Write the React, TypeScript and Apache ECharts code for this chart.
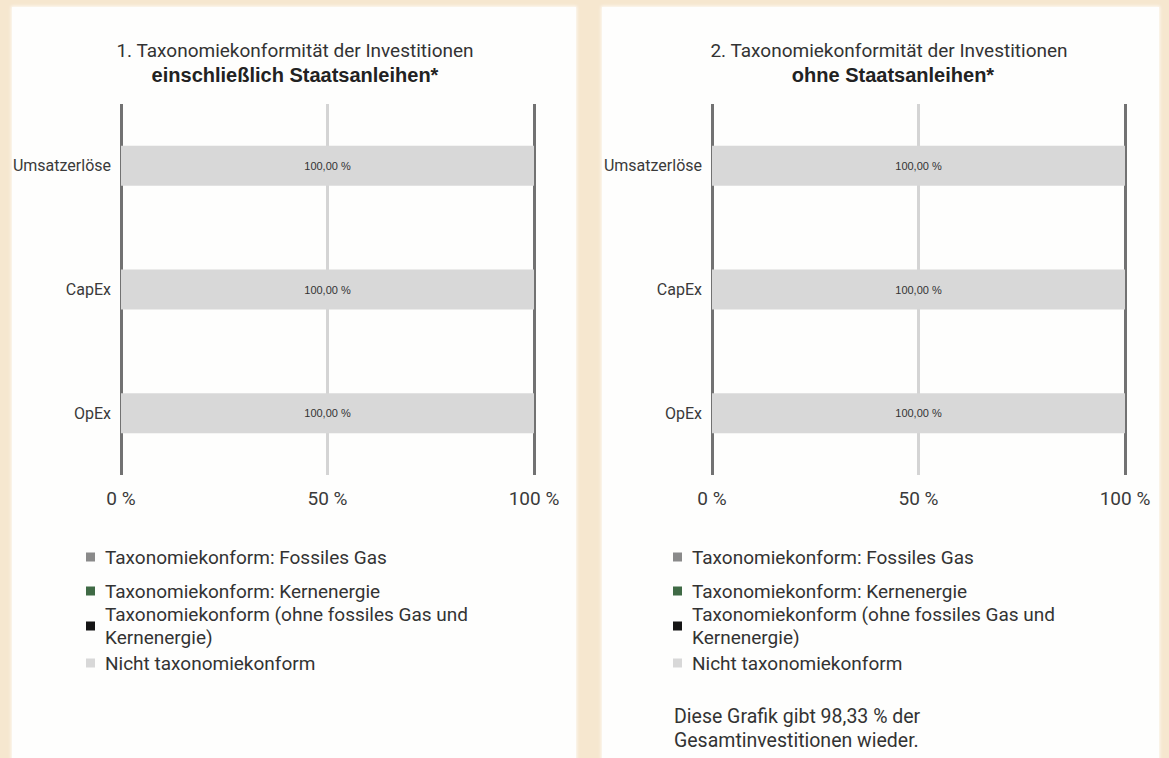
import React, { useEffect, useRef } from 'react';
import * as echarts from 'echarts';

// ---------- data ----------
const categories = ['Umsatzerlöse', 'CapEx', 'OpEx'];
const seriesNames = [
  'Taxonomiekonform: Fossiles Gas',
  'Taxonomiekonform: Kernenergie',
  'Taxonomiekonform (ohne fossiles Gas und Kernenergie)',
  'Nicht taxonomiekonform',
];
const seriesColors = ['#8a8a8a', '#3f6a45', '#151515', '#d8d8d8'];

// Chart 1: including sovereign bonds
const gas1 = [0, 0, 0];
const nuclear1 = [0, 0, 0];
const aligned1 = [0, 0, 0];
const notAligned1 = [100, 100, 100];

// Chart 2: excluding sovereign bonds
const gas2 = [0, 0, 0];
const nuclear2 = [0, 0, 0];
const aligned2 = [0, 0, 0];
const notAligned2 = [100, 100, 100];

const xTicks = [0, 50, 100];
const title1 = ['1. Taxonomiekonformität der Investitionen', 'einschließlich Staatsanleihen*'];
const title2 = ['2. Taxonomiekonformität der Investitionen', 'ohne Staatsanleihen*'];
const footnote = ['Diese Grafik gibt 98,33 % der', 'Gesamtinvestitionen wieder.'];

const FONT = 'Roboto, "Liberation Sans", sans-serif';
const BOLD_FONT = '"Liberation Sans", Arial, sans-serif';
const TEXT = '#333333';

function fmtPct(v: number) {
  return v.toFixed(2).replace('.', ',') + ' %';
}

export default function App() {
  const ref = useRef<HTMLDivElement>(null);

  useEffect(() => {
    if (!ref.current) return;
    const chart = echarts.init(ref.current, undefined, { renderer: 'svg' });

    const grids = [
      { left: 121, top: 104, width: 413, height: 371 },
      { left: 712, top: 104, width: 413, height: 371 },
    ];

    const dataSets = [
      [gas1, nuclear1, aligned1, notAligned1],
      [gas2, nuclear2, aligned2, notAligned2],
    ];

    const xAxes = grids.map((_, gi) => ({
      type: 'value',
      gridIndex: gi,
      min: xTicks[0],
      max: xTicks[xTicks.length - 1],
      interval: xTicks[1] - xTicks[0],
      axisLine: { show: false },
      axisTick: { show: false },
      axisLabel: {
        formatter: (v: number) => `${v} %`,
        fontSize: 19,
        fontFamily: FONT,
        color: '#3a3a3a',
        margin: 14,
      },
      splitLine: {
        show: true,
        lineStyle: { color: ['#727272', '#d4d4d4'], width: 3 },
      },
    }));

    const yAxes = grids.map((_, gi) => ({
      type: 'category',
      gridIndex: gi,
      inverse: true,
      data: categories,
      axisLine: { show: false },
      axisTick: { show: false },
      axisLabel: {
        fontSize: 16,
        fontFamily: FONT,
        color: '#3a3a3a',
        margin: 10,
      },
      splitLine: { show: false },
    }));

    const series: any[] = [];
    dataSets.forEach((ds, gi) => {
      ds.forEach((values, si) => {
        series.push({
          type: 'bar',
          name: seriesNames[si],
          xAxisIndex: gi,
          yAxisIndex: gi,
          stack: 'total' + gi,
          barWidth: 40,
          data: values,
          itemStyle: { color: seriesColors[si] },
          label: {
            show: true,
            position: 'inside',
            formatter: (p: any) => (p.value > 0 ? fmtPct(p.value) : ''),
            fontSize: 11,
            fontFamily: '"Liberation Sans", Arial, sans-serif',
            color: '#333',
          },
        });
      });
    });

    const legendCenters = [557, 591, 626, 663];
    const legendLefts = [86, 673];
    const legends: any[] = [];
    legendLefts.forEach((lx) => {
      seriesNames.forEach((name, i) => {
        const twoLine = i === 2;
        const lh = twoLine ? 23 : 20;
        const h = twoLine ? lh * 2 : lh;
        legends.push({
          show: true,
          data: [name],
          left: lx,
          top: legendCenters[i] - h / 2,
          orient: 'vertical',
          padding: 0,
          itemWidth: 9,
          itemHeight: 9,
          icon: 'rect',
          selectedMode: false,
          formatter: (n: string) =>
            n === seriesNames[2] ? 'Taxonomiekonform (ohne fossiles Gas und\nKernenergie)' : n,
          textStyle: {
            fontSize: 19,
            fontFamily: FONT,
            color: TEXT,
            lineHeight: lh,
            padding: [0, 0, 0, 5],
          },
        });
      });
    });

    const titleCenters = [295, 889];
    const titles = [title1, title2];
    const graphics: any[] = [];
    titles.forEach((t, i) => {
      graphics.push({
        type: 'text',
        x: titleCenters[i],
        y: 50,
        style: {
          text: t[0],
          fontSize: 19,
          fontFamily: FONT,
          fill: TEXT,
          align: 'center',
          verticalAlign: 'middle',
        },
      });
      graphics.push({
        type: 'text',
        x: titleCenters[i] + (i === 1 ? 4 : 0),
        y: 75,
        style: {
          text: t[1],
          fontSize: 20,
          fontWeight: 'bold',
          fontFamily: BOLD_FONT,
          fill: '#222',
          align: 'center',
          verticalAlign: 'middle',
        },
      });
    });
    footnote.forEach((line, i) => {
      graphics.push({
        type: 'text',
        x: 674,
        y: 716 + i * 24,
        style: {
          text: line,
          fontSize: 19.5,
          fontFamily: FONT,
          fill: TEXT,
          align: 'left',
          verticalAlign: 'middle',
        },
      });
    });

    chart.setOption({
      animation: false,
      backgroundColor: 'transparent',
      grid: grids,
      xAxis: xAxes,
      yAxis: yAxes,
      series,
      legend: legends,
      graphic: graphics,
    });

    return () => chart.dispose();
  }, []);

  return (
    <div
      style={{
        position: 'fixed',
        left: 0,
        top: 0,
        width: 1169,
        height: 758,
        background: '#f6e7cf',
        overflow: 'hidden',
      }}
    >
      <div
        style={{
          position: 'absolute',
          left: 12,
          top: 7,
          width: 564,
          height: 770,
          background: '#fefefd',
          boxShadow: '0 0 3px 1px rgba(255,255,255,0.8)',
        }}
      />
      <div
        style={{
          position: 'absolute',
          left: 602,
          top: 7,
          width: 557,
          height: 770,
          background: '#fefefd',
          boxShadow: '0 0 3px 1px rgba(255,255,255,0.8)',
        }}
      />
      <div ref={ref} style={{ position: 'absolute', left: 0, top: 0, width: 1169, height: 758 }} />
    </div>
  );
}
